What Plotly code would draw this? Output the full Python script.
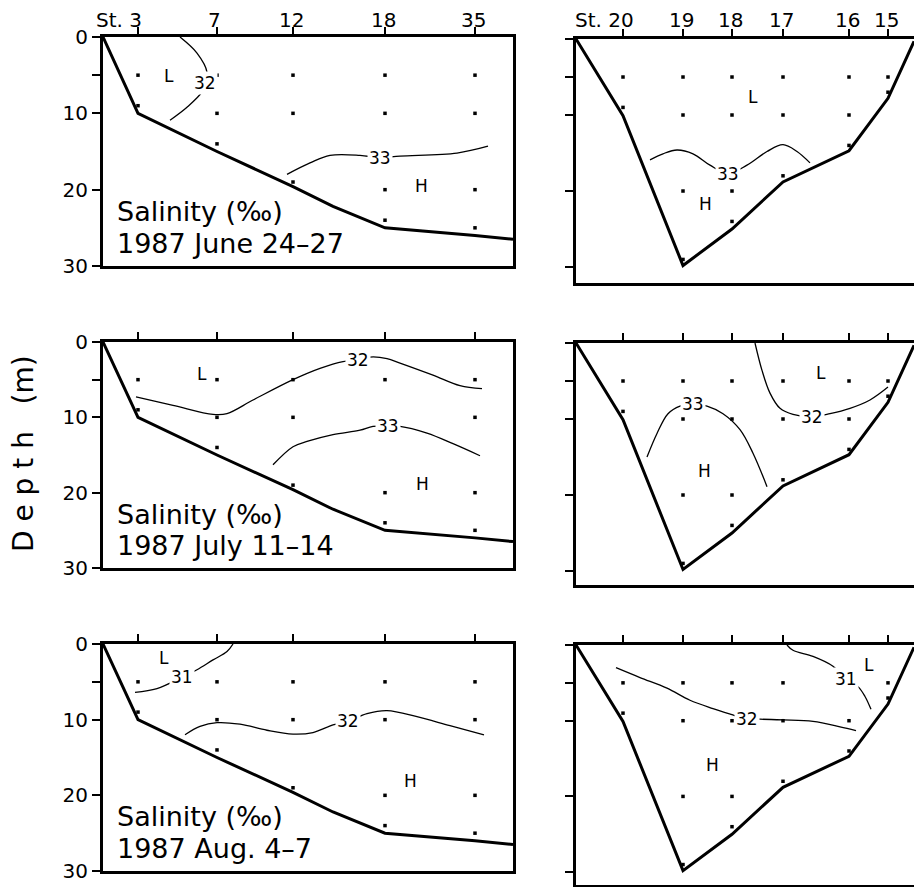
import plotly.graph_objects as go

# ---- stations along the two transects (distance units along section) ----
west_stations = ["3", "7", "12", "18", "35"]
west_dist = [3.5, 11.4, 19.0, 28.2, 37.2]
east_stations = ["20", "19", "18", "17", "16", "15"]
east_dist = [4.7, 10.7, 15.6, 20.7, 27.3, 31.2]

# ---- bottom profiles ----
west_bottom_x = [0, 3.5, 11.4, 19.0, 23.0, 28.2, 37.2, 41.0]
west_bottom_d = [0, 10.0, 15.0, 19.6, 22.2, 25.0, 26.0, 26.5]
east_bottom_x = [0, 4.7, 10.7, 15.6, 20.7, 27.3, 31.2, 33.8]
east_bottom_d = [0, 10.1, 29.8, 25.0, 18.8, 14.7, 7.8, 0.3]

# ---- sampling depths (m) at each station ----
west_sample_d = [[5, 9], [5, 10, 14], [5, 10, 19], [5, 10, 20, 24], [5, 10, 20, 25]]
east_sample_d = [[5, 9], [5, 10, 20, 29], [5, 10, 20, 24], [5, 10, 18], [5, 10, 14], [5, 7]]

cruise_dates = ["1987 June 24–27", "1987 July 11–14", "1987 Aug. 4–7"]

# ---- isohalines: (x, depth); label sits on point index *_lab ----
jun_w_32_x = [7.7, 9.4, 10.4, 10.2, 9.9, 8.4, 6.7]
jun_w_32_d = [0.0, 2.1, 4.6, 6.0, 7.2, 9.2, 10.9]
jun_w_32_lab = 3
jun_w_33_x = [18.4, 20.7, 22.7, 25.7, 27.7, 29.7, 35.4, 38.5]
jun_w_33_d = [18.0, 16.5, 15.5, 15.5, 15.8, 15.6, 15.2, 14.3]
jun_w_33_lab = 4
jun_e_33_x = [7.4, 8.7, 10.1, 11.7, 13.4, 15.2, 17.1, 19.1, 20.7, 22.1, 23.4]
jun_e_33_d = [15.9, 15.1, 14.6, 15.1, 16.6, 17.7, 16.6, 14.8, 13.9, 14.8, 16.3]
jun_e_33_lab = 5

jul_w_32_x = [3.3, 7.0, 11.0, 12.4, 15.0, 19.0, 21.7, 24.0, 25.5, 26.7, 28.4, 29.7, 33.0, 35.7, 37.9]
jul_w_32_d = [7.3, 8.4, 9.6, 9.5, 7.7, 5.0, 3.5, 2.6, 2.4, 2.0, 2.2, 2.8, 4.4, 5.8, 6.2]
jul_w_32_lab = 8
jul_w_33_x = [17.0, 19.0, 20.4, 23.0, 25.7, 27.0, 28.5, 29.7, 32.4, 35.0, 37.7]
jul_w_33_d = [16.3, 13.9, 13.2, 12.3, 11.7, 11.2, 11.2, 11.2, 12.1, 13.5, 15.1]
jul_w_33_lab = 6
jul_e_33_x = [7.1, 8.1, 9.2, 10.4, 11.7, 13.1, 14.7, 16.4, 17.7, 19.1]
jul_e_33_d = [15.0, 11.9, 9.3, 8.3, 8.0, 8.3, 9.3, 11.4, 14.5, 18.9]
jul_e_33_lab = 4
jul_e_32_x = [17.9, 18.6, 19.4, 20.4, 21.7, 23.6, 25.4, 27.4, 29.4, 31.2]
jul_e_32_d = [0.0, 3.6, 6.6, 8.6, 9.4, 9.7, 9.3, 8.6, 7.5, 5.8]
jul_e_32_lab = 5

aug_w_31_x = [3.2, 5.4, 7.9, 9.4, 11.0, 12.4, 13.0]
aug_w_31_d = [6.4, 5.9, 4.4, 3.4, 2.1, 1.0, 0.0]
aug_w_31_lab = 2
aug_w_32_x = [8.2, 9.7, 11.4, 13.7, 16.4, 19.0, 21.0, 23.0, 24.5, 26.4, 28.4, 31.4, 34.7, 38.1]
aug_w_32_d = [12.0, 10.9, 10.4, 10.6, 11.4, 11.9, 11.7, 10.7, 10.2, 9.2, 8.8, 9.6, 10.8, 12.0]
aug_w_32_lab = 8
aug_e_32_x = [4.0, 6.4, 9.1, 11.4, 13.7, 15.6, 17.1, 18.4, 20.7, 23.7, 26.4, 28.0]
aug_e_32_d = [3.0, 4.3, 5.7, 7.3, 8.4, 9.2, 9.8, 9.8, 9.9, 10.1, 10.8, 11.3]
aug_e_32_lab = 6
aug_e_31_x = [21.1, 21.7, 23.7, 25.7, 27.0, 28.2, 28.9, 29.5]
aug_e_31_d = [0.0, 0.7, 1.5, 2.8, 4.5, 5.5, 6.8, 8.5]
aug_e_31_lab = 4

# ---- low / high salinity markers (x, depth) ----
jun_w_L, jun_w_H = (6.6, 5.1), (31.8, 19.5)
jun_e_L, jun_e_H = (17.7, 7.6), (12.9, 21.7)
jul_w_L, jul_w_H = (9.9, 4.2), (31.9, 18.9)
jul_e_L, jul_e_H = (24.5, 4.0), (12.8, 16.8)
aug_w_L, aug_w_H = (6.1, 1.8), (30.7, 18.1)
aug_e_L, aug_e_H = (29.3, 2.6), (13.6, 15.9)

FONT = "DejaVu Sans"
W_DOM = [103 / 914, 513 / 914]
E_DOM = [576 / 914, 1.0]
ROW_W = [[1 - 266 / 887, 1 - 37 / 887], [1 - 568 / 887, 1 - 342 / 887], [1 - 871 / 887, 1 - 644 / 887]]
ROW_E = [[1 - 283 / 887, 1 - 39 / 887], [1 - 585 / 887, 1 - 343 / 887], [1 - 885 / 887, 1 - 645 / 887]]
E_MAX = [32.1, 31.84, 31.7]

panels = [
    dict(side="w", row=0, iso=[("32", jun_w_32_x, jun_w_32_d, jun_w_32_lab), ("33", jun_w_33_x, jun_w_33_d, jun_w_33_lab)], L=jun_w_L, H=jun_w_H),
    dict(side="e", row=0, iso=[("33", jun_e_33_x, jun_e_33_d, jun_e_33_lab)], L=jun_e_L, H=jun_e_H),
    dict(side="w", row=1, iso=[("32", jul_w_32_x, jul_w_32_d, jul_w_32_lab), ("33", jul_w_33_x, jul_w_33_d, jul_w_33_lab)], L=jul_w_L, H=jul_w_H),
    dict(side="e", row=1, iso=[("33", jul_e_33_x, jul_e_33_d, jul_e_33_lab), ("32", jul_e_32_x, jul_e_32_d, jul_e_32_lab)], L=jul_e_L, H=jul_e_H),
    dict(side="w", row=2, iso=[("31", aug_w_31_x, aug_w_31_d, aug_w_31_lab), ("32", aug_w_32_x, aug_w_32_d, aug_w_32_lab)], L=aug_w_L, H=aug_w_H),
    dict(side="e", row=2, iso=[("32", aug_e_32_x, aug_e_32_d, aug_e_32_lab), ("31", aug_e_31_x, aug_e_31_d, aug_e_31_lab)], L=aug_e_L, H=aug_e_H),
]

fig = go.Figure()
annotations = []
layout_axes = {}

for k, p in enumerate(panels, start=1):
    xa, ya = f"x{k}", f"y{k}"
    west = p["side"] == "w"
    dist = west_dist if west else east_dist
    names = west_stations if west else east_stations
    samples = west_sample_d if west else east_sample_d
    bx = west_bottom_x if west else east_bottom_x
    bd = west_bottom_d if west else east_bottom_d

    # sea floor
    fig.add_trace(go.Scatter(x=bx, y=bd, mode="lines", xaxis=xa, yaxis=ya,
                             line=dict(color="black", width=3), hoverinfo="skip"))
    # sampling points
    px, pd = [], []
    for sx, depths in zip(dist, samples):
        for d in depths:
            px.append(sx)
            pd.append(d)
    fig.add_trace(go.Scatter(x=px, y=pd, mode="markers", xaxis=xa, yaxis=ya,
                             marker=dict(color="black", size=3.5, symbol="square"), hoverinfo="skip"))
    # isohalines with inline labels
    for label, ix, idp, li in p["iso"]:
        fig.add_trace(go.Scatter(x=ix, y=idp, mode="lines", xaxis=xa, yaxis=ya,
                                 line=dict(color="black", width=1.3, shape="spline", smoothing=1.0),
                                 hoverinfo="skip"))
        annotations.append(dict(x=ix[li], y=idp[li], xref=xa, yref=ya, text=label, showarrow=False,
                                font=dict(family=FONT, size=17, color="black"),
                                bgcolor="white", borderpad=1))
    for tag in ("L", "H"):
        annotations.append(dict(x=p[tag][0], y=p[tag][1], xref=xa, yref=ya, text=tag, showarrow=False,
                                font=dict(family=FONT, size=17, color="black")))

    row = p["row"]
    if west:
        annotations.append(dict(x=1.2, y=22.85, xref=xa, yref=ya, text="Salinity (‰)", showarrow=False,
                                xanchor="left", yanchor="middle", font=dict(family=FONT, size=27, color="black")))
        annotations.append(dict(x=1.2, y=27.05, xref=xa, yref=ya, text=cruise_dates[row], showarrow=False,
                                xanchor="left", yanchor="middle", font=dict(family=FONT, size=27, color="black")))
    if row == 0:
        for i, (sx, nm) in enumerate(zip(dist, names)):
            txt = ("St. " + nm) if i == 0 else nm
            annotations.append(dict(x=sx, y=1 - 19.5 / 887, xref=xa, yref="paper", text=txt, showarrow=False,
                                    xanchor="right", yanchor="middle", xshift=6.4 * len(nm),
                                    font=dict(family=FONT, size=20, color="black")))

    ymax = 30 if west else E_MAX[row]
    layout_axes[f"xaxis{k}"] = dict(
        domain=W_DOM if west else E_DOM, range=[0, 41.0 if west else 33.8], anchor=ya, side="top",
        showline=True, linewidth=3, linecolor="black", mirror=True, ticks="outside",
        tickvals=dist, ticklen=7, tickwidth=1.5, tickcolor="black", showticklabels=False,
        showgrid=False, zeroline=False, fixedrange=True, automargin=False)
    # eastern sections run off the right edge, so no right-hand frame there
    layout_axes[f"yaxis{k}"] = dict(
        domain=ROW_W[row] if west else ROW_E[row], range=[ymax, 0], anchor=xa,
        showline=True, linewidth=3, linecolor="black", mirror=west, ticks="outside",
        tickvals=[0, 5, 10, 20, 30], ticktext=["0", "", "10", "20", "30"], ticklen=8, tickwidth=1.5,
        tickcolor="black", showticklabels=west, tickfont=dict(family=FONT, size=20, color="black"),
        showgrid=False, zeroline=False, fixedrange=True, automargin=False)

annotations.append(dict(x=23 / 914, y=1 - 454 / 887, xref="paper", yref="paper", text="D e p t h   (m)",
                        textangle=-90, showarrow=False, xanchor="center", yanchor="middle",
                        font=dict(family=FONT, size=28, color="black")))

fig.update_layout(width=914, height=887, margin=dict(l=0, r=0, t=0, b=0, pad=0, autoexpand=False),
                  autosize=False, paper_bgcolor="white", plot_bgcolor="white", showlegend=False,
                  annotations=annotations, **layout_axes)
fig.write_html("out.html")
